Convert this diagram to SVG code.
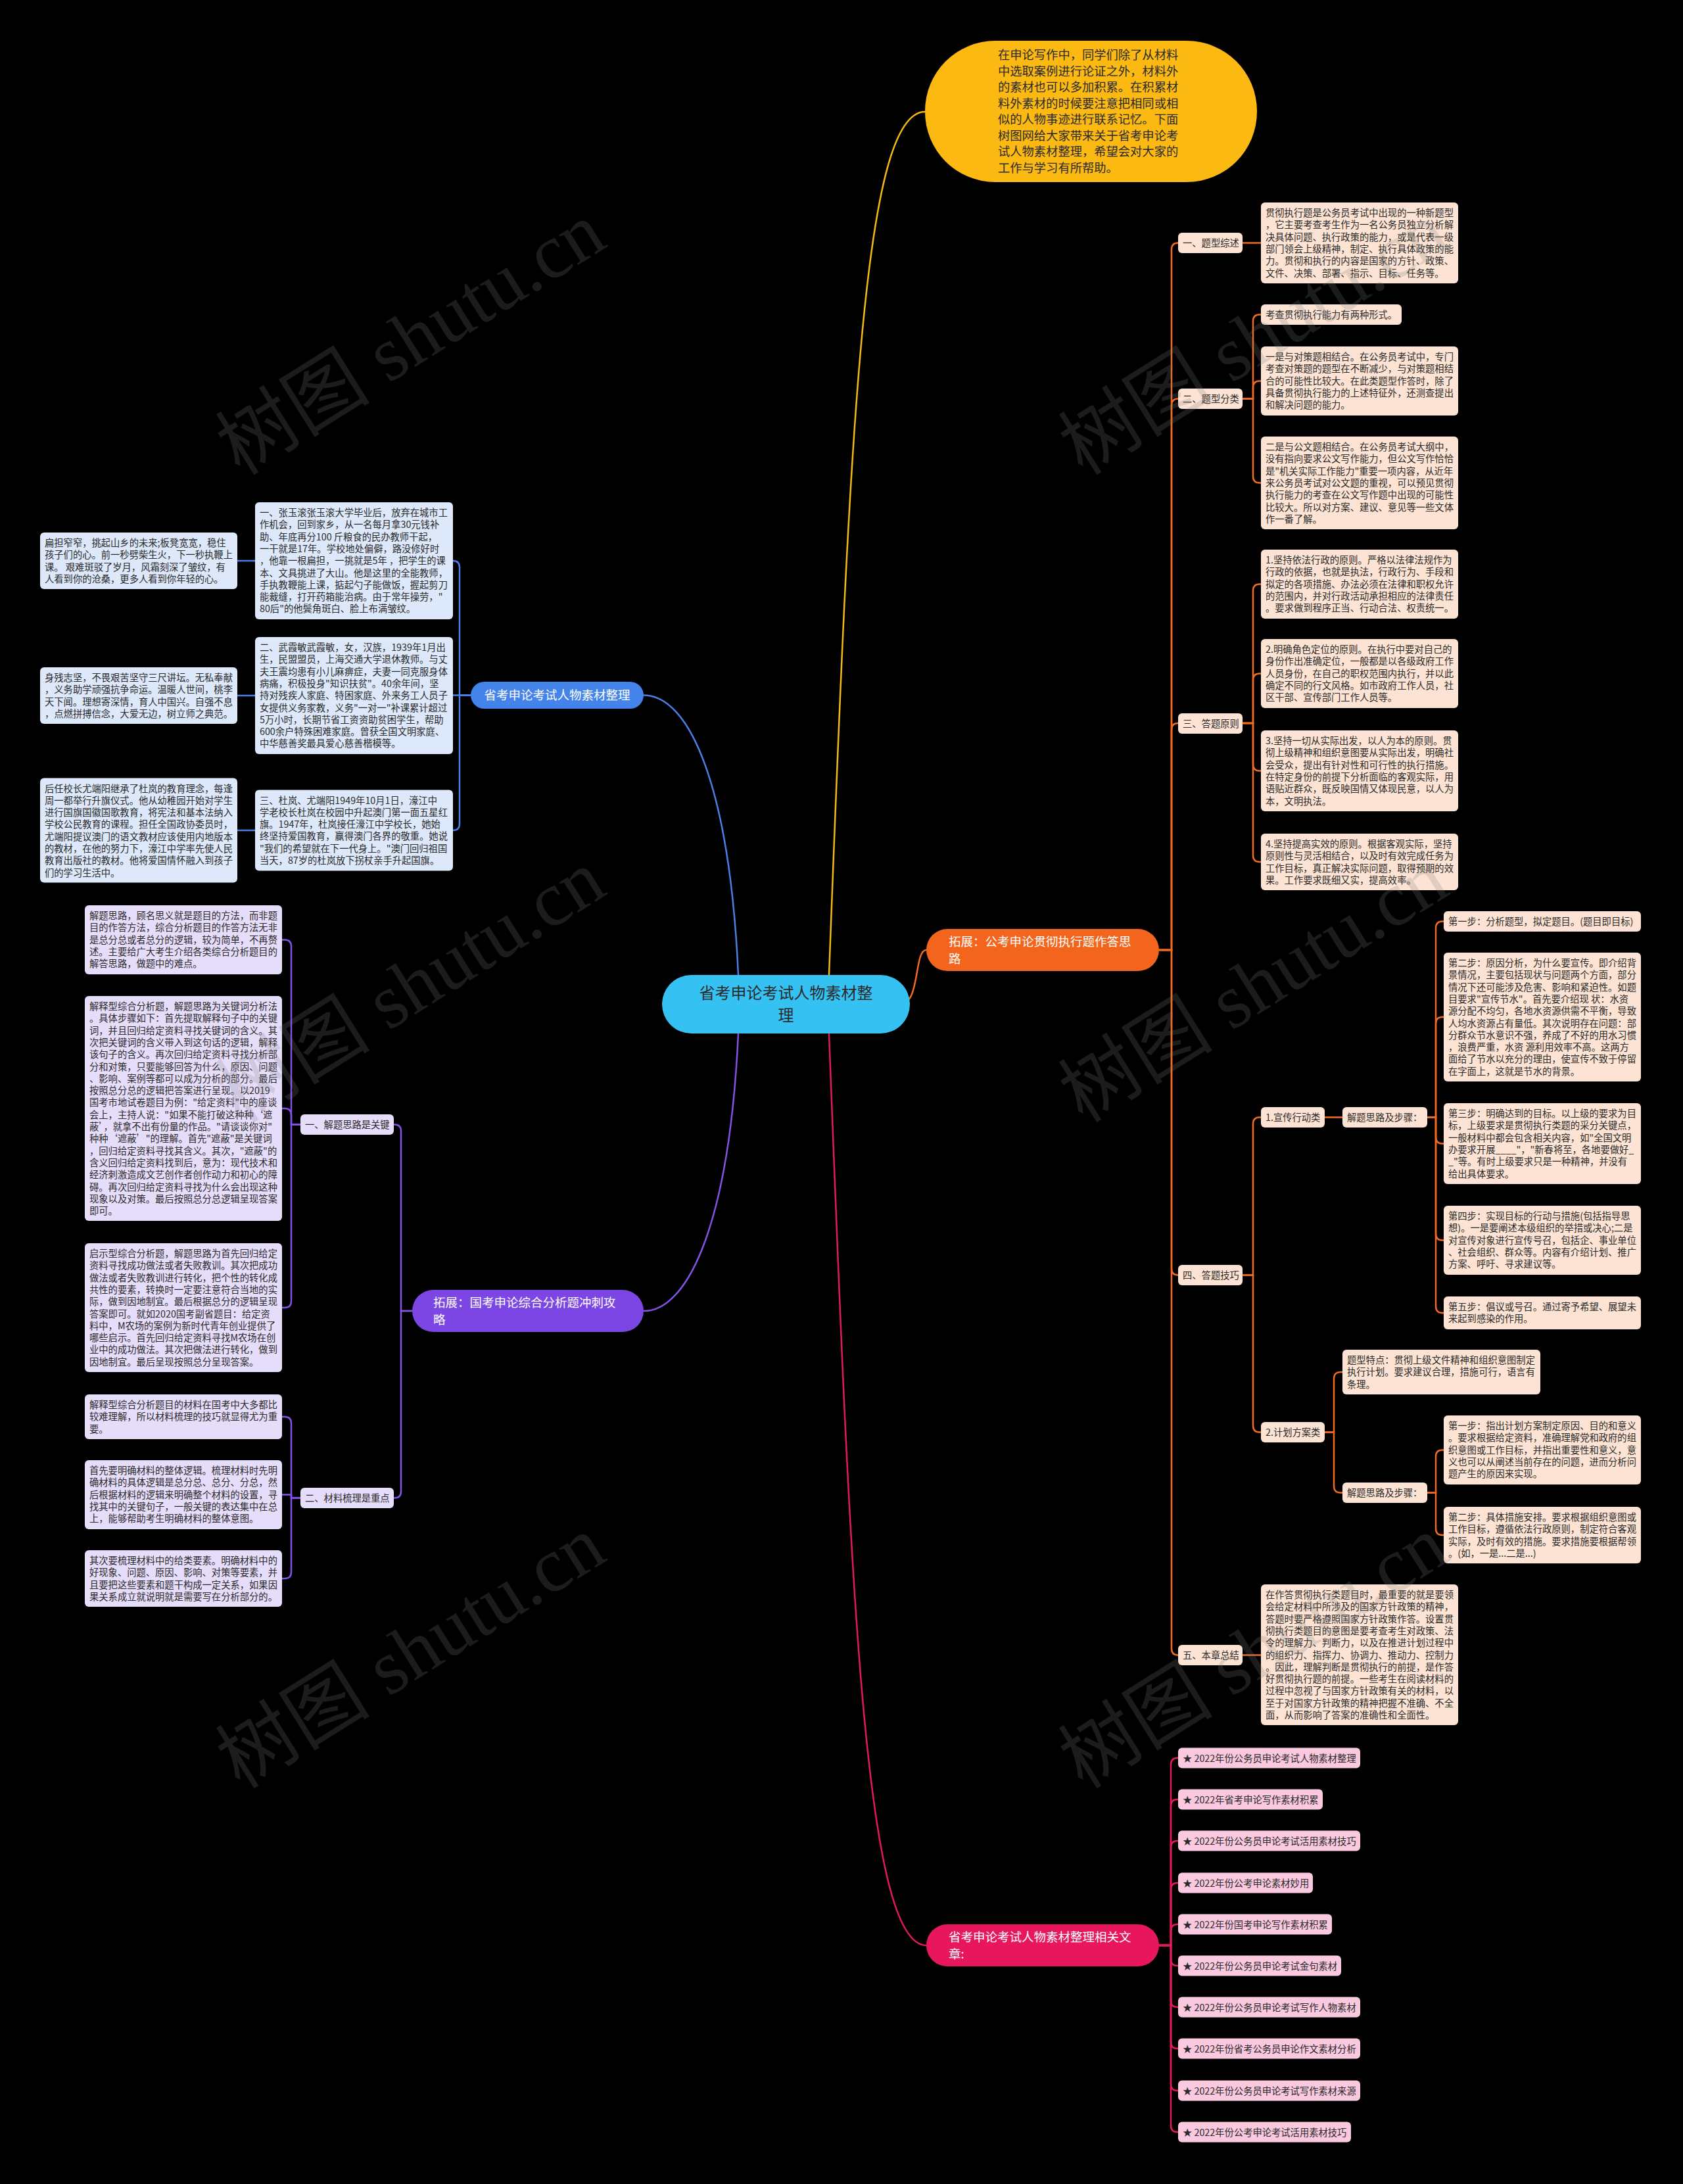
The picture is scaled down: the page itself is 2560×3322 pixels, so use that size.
<svg xmlns="http://www.w3.org/2000/svg" width="2560" height="3322" viewBox="0 0 2560 3322">
<style>
text{font-family:"Noto Sans CJK SC","Noto Sans",sans-serif}
.t{font-size:14.3px;fill:#2a2a2a}
.li{font-size:14.3px;fill:#2a2a2a}
.o{fill:#fde3d3}
.b{fill:#dde8fb}
.p{fill:#e6ddfb}
.k{fill:#fac9df}
.co{fill:none;stroke:#f06a22;stroke-width:2.5}
.cb{fill:none;stroke:#4a80e6;stroke-width:2.5}
.cp{fill:none;stroke:#8552e6;stroke-width:2.5}
.ck{fill:none;stroke:#e3195f;stroke-width:2.5}
.cy{fill:none;stroke:#f5b914;stroke-width:2.5}
.mw{font-size:18.5px;fill:#fff}
.wm{font-family:"Liberation Serif","Noto Sans CJK SC",serif;font-size:118px;fill:#808080;fill-opacity:.22}
</style>
<rect width="2560" height="3322" fill="#000"/>
<g id="connectors">
<path class="cy" d="M1261 1483C1293 640 1314 170 1407 170"/>
<path class="co" d="M1370 1527C1400 1527 1390 1445 1409 1445"/>
<path class="ck" d="M1261 1572C1293 2400 1314 2959 1409 2959"/>
<path class="cb" d="M1123 1483C1110 1200 1050 1057.5 979 1057.5"/>
<path class="cp" d="M1123 1572C1110 1850 1050 1994 979 1994"/>
<path class="co" d="M1763 1445H1782V379.5Q1782 369.5 1792 369.5"/>
<path class="co" d="M1763 1445H1782V616.5Q1782 606.5 1792 606.5"/>
<path class="co" d="M1763 1445H1782V1110Q1782 1100 1792 1100"/>
<path class="co" d="M1763 1445H1782V1929.5Q1782 1939.5 1792 1939.5"/>
<path class="co" d="M1763 1445H1782V2507.5Q1782 2517.5 1792 2517.5"/>
<path class="co" d="M1890 369.5H1918"/>
<path class="co" d="M1890 606.5H1906V488.5Q1906 478.5 1916 478.5H1918"/>
<path class="co" d="M1890 606.5H1906V589.5Q1906 579.5 1916 579.5H1918"/>
<path class="co" d="M1890 606.5H1906V724.5Q1906 734.5 1916 734.5H1918"/>
<path class="co" d="M1890 1100H1906V898.5Q1906 888.5 1916 888.5H1918"/>
<path class="co" d="M1890 1100H1906V1034.5Q1906 1024.5 1916 1024.5H1918"/>
<path class="co" d="M1890 1100H1906V1162.5Q1906 1172.5 1916 1172.5H1918"/>
<path class="co" d="M1890 1100H1906V1301Q1906 1311 1916 1311H1918"/>
<path class="co" d="M1890 1939.5H1906V1709.5Q1906 1699.5 1916 1699.5H1918"/>
<path class="co" d="M1890 1939.5H1906V2168.5Q1906 2178.5 1916 2178.5H1918"/>
<path class="co" d="M2015 1699.5H2042"/>
<path class="co" d="M2171 1699.5H2184V1411.5Q2184 1401.5 2194 1401.5H2196"/>
<path class="co" d="M2171 1699.5H2184V1557Q2184 1547 2194 1547H2196"/>
<path class="co" d="M2171 1699.5H2184V1729.5Q2184 1739.5 2194 1739.5H2196"/>
<path class="co" d="M2171 1699.5H2184V1876.5Q2184 1886.5 2194 1886.5H2196"/>
<path class="co" d="M2171 1699.5H2184V1987Q2184 1997 2194 1997H2196"/>
<path class="co" d="M2015 2178.5H2029V2097Q2029 2087 2039 2087H2042"/>
<path class="co" d="M2015 2178.5H2029V2260.5Q2029 2270.5 2039 2270.5H2042"/>
<path class="co" d="M2171 2270.5H2184V2215.5Q2184 2205.5 2194 2205.5H2196"/>
<path class="co" d="M2171 2270.5H2184V2325Q2184 2335 2194 2335H2196"/>
<path class="co" d="M1890 2517.5H1918"/>
<path class="cb" d="M716 1057.5H699V863Q699 853 689 853"/>
<path class="cb" d="M716 1057.5H689"/>
<path class="cb" d="M716 1057.5H699V1253Q699 1263 689 1263"/>
<path class="cb" d="M388 853H361M388 1058H361M388 1263H361"/>
<path class="cp" d="M627 1994H610V1720.5Q610 1710.5 600 1710.5H599"/>
<path class="cp" d="M627 1994H610V2268.5Q610 2278.5 600 2278.5H599"/>
<path class="cp" d="M457 1710.5H443V1439.5Q443 1429.5 433 1429.5H429"/>
<path class="cp" d="M457 1710.5H443V1696Q443 1686 433 1686H429"/>
<path class="cp" d="M457 1710.5H443V1979Q443 1989 433 1989H429"/>
<path class="cp" d="M457 2278.5H443V2165Q443 2155 433 2155H429"/>
<path class="cp" d="M457 2278.5H443V2273.5H429"/>
<path class="cp" d="M457 2278.5H443V2391Q443 2401 433 2401H429"/>
<path class="ck" d="M1763 2959H1781V2684Q1781 2674 1791 2674H1792"/>
<path class="ck" d="M1763 2959H1781V2747Q1781 2737 1791 2737H1792"/>
<path class="ck" d="M1763 2959H1781V2810Q1781 2800 1791 2800H1792"/>
<path class="ck" d="M1763 2959H1781V2874Q1781 2864 1791 2864H1792"/>
<path class="ck" d="M1763 2959H1781V2937Q1781 2927 1791 2927H1792"/>
<path class="ck" d="M1763 2959H1781V2980Q1781 2990 1791 2990H1792"/>
<path class="ck" d="M1763 2959H1781V3043Q1781 3053 1791 3053H1792"/>
<path class="ck" d="M1763 2959H1781V3106Q1781 3116 1791 3116H1792"/>
<path class="ck" d="M1763 2959H1781V3170Q1781 3180 1791 3180H1792"/>
<path class="ck" d="M1763 2959H1781V3233Q1781 3243 1791 3243H1792"/>
</g>

<g id="root">
<rect x="1007" y="1483" width="377" height="89" rx="44.5" fill="#35c2f2"/>
<text x="1195.5" y="1519" font-size="24" fill="#2a2a2a" text-anchor="middle"><tspan x="1195.5">省考申论考试人物素材整</tspan><tspan x="1195.5" dy="34">理</tspan></text>
</g>

<g id="intro">
<rect x="1407" y="62" width="505" height="215" rx="107" fill="#fbb912"/>
<text x="1518" y="90" font-size="18.3" fill="#2a2a2a"><tspan x="1518">在申论写作中，同学们除了从材料</tspan><tspan x="1518" dy="24.5">中选取案例进行论证之外，材料外</tspan><tspan x="1518" dy="24.5">的素材也可以多加积累。在积累材</tspan><tspan x="1518" dy="24.5">料外素材的时候要注意把相同或相</tspan><tspan x="1518" dy="24.5">似的人物事迹进行联系记忆。下面</tspan><tspan x="1518" dy="24.5">树图网给大家带来关于省考申论考</tspan><tspan x="1518" dy="24.5">试人物素材整理，希望会对大家的</tspan><tspan x="1518" dy="24.5">工作与学习有所帮助。</tspan></text>
</g>

<g id="n-orange">
<rect x="1409" y="1413" width="354" height="64" rx="32" fill="#f3641d"/>
<text class="mw" x="1443" y="1438.5"><tspan x="1443">拓展：公考申论贯彻执行题作答思</tspan><tspan x="1443" dy="26">路</tspan></text>
</g>
<g id="o-l1"><rect class="o" x="1792" y="354" width="98" height="31" rx="6"/><text class="t" x="1799" y="375">一、题型综述</text></g>
<g id="o-t1"><rect class="o" x="1918" y="308" width="300" height="123" rx="6"/><text class="t" x="1925" y="329"><tspan x="1925">贯彻执行题是公务员考试中出现的一种新题型</tspan><tspan x="1925" dy="18.3">，它主要考查考生作为一名公务员独立分析解</tspan><tspan x="1925" dy="18.3">决具体问题、执行政策的能力，或是代表一级</tspan><tspan x="1925" dy="18.3">部门领会上级精神，制定、执行具体政策的能</tspan><tspan x="1925" dy="18.3">力。贯彻和执行的内容是国家的方针、政策、</tspan><tspan x="1925" dy="18.3">文件、决策、部署、指示、目标、任务等。</tspan></text></g>
<g id="o-l2"><rect class="o" x="1792" y="591" width="98" height="31" rx="6"/><text class="t" x="1799" y="612">二、题型分类</text></g>
<g id="o-t2a"><rect class="o" x="1918" y="463" width="214" height="31" rx="6"/><text class="t" x="1925" y="484">考查贯彻执行能力有两种形式。</text></g>
<g id="o-t2b"><rect class="o" x="1918" y="527" width="300" height="105" rx="6"/><text class="t" x="1925" y="548"><tspan x="1925">一是与对策题相结合。在公务员考试中，专门</tspan><tspan x="1925" dy="18.3">考查对策题的题型在不断减少，与对策题相结</tspan><tspan x="1925" dy="18.3">合的可能性比较大。在此类题型作答时，除了</tspan><tspan x="1925" dy="18.3">具备贯彻执行能力的上述特征外，还测查提出</tspan><tspan x="1925" dy="18.3">和解决问题的能力。</tspan></text></g>
<g id="o-t2c"><rect class="o" x="1918" y="664" width="300" height="141" rx="6"/><text class="t" x="1925" y="685"><tspan x="1925">二是与公文题相结合。在公务员考试大纲中，</tspan><tspan x="1925" dy="18.3">没有指向要求公文写作能力，但公文写作恰恰</tspan><tspan x="1925" dy="18.3">是"机关实际工作能力"重要一项内容，从近年</tspan><tspan x="1925" dy="18.3">来公务员考试对公文题的重视，可以预见贯彻</tspan><tspan x="1925" dy="18.3">执行能力的考查在公文写作题中出现的可能性</tspan><tspan x="1925" dy="18.3">比较大。所以对方案、建议、意见等一些文体</tspan><tspan x="1925" dy="18.3">作一番了解。</tspan></text></g>
<g id="o-l3"><rect class="o" x="1792" y="1085" width="98" height="31" rx="6"/><text class="t" x="1799" y="1106">三、答题原则</text></g>
<g id="o-t3a"><rect class="o" x="1918" y="836" width="300" height="105" rx="6"/><text class="t" x="1925" y="857"><tspan x="1925">1.坚持依法行政的原则。严格以法律法规作为</tspan><tspan x="1925" dy="18.3">行政的依据，也就是执法，行政行为、手段和</tspan><tspan x="1925" dy="18.3">拟定的各项措施、办法必须在法律和职权允许</tspan><tspan x="1925" dy="18.3">的范围内，并对行政活动承担相应的法律责任</tspan><tspan x="1925" dy="18.3">。要求做到程序正当、行动合法、权责统一。</tspan></text></g>
<g id="o-t3b"><rect class="o" x="1918" y="972" width="300" height="105" rx="6"/><text class="t" x="1925" y="993"><tspan x="1925">2.明确角色定位的原则。在执行中要对自己的</tspan><tspan x="1925" dy="18.3">身份作出准确定位，一般都是以各级政府工作</tspan><tspan x="1925" dy="18.3">人员身份，在自己的职权范围内执行，并以此</tspan><tspan x="1925" dy="18.3">确定不同的行文风格。如市政府工作人员，社</tspan><tspan x="1925" dy="18.3">区干部、宣传部门工作人员等。</tspan></text></g>
<g id="o-t3c"><rect class="o" x="1918" y="1111" width="300" height="123" rx="6"/><text class="t" x="1925" y="1132"><tspan x="1925">3.坚持一切从实际出发，以人为本的原则。贯</tspan><tspan x="1925" dy="18.3">彻上级精神和组织意图要从实际出发，明确社</tspan><tspan x="1925" dy="18.3">会受众，提出有针对性和可行性的执行措施。</tspan><tspan x="1925" dy="18.3">在特定身份的前提下分析面临的客观实际，用</tspan><tspan x="1925" dy="18.3">语贴近群众，既反映国情又体现民意，以人为</tspan><tspan x="1925" dy="18.3">本，文明执法。</tspan></text></g>
<g id="o-t3d"><rect class="o" x="1918" y="1268" width="300" height="86" rx="6"/><text class="t" x="1925" y="1289"><tspan x="1925">4.坚持提高实效的原则。根据客观实际，坚持</tspan><tspan x="1925" dy="18.3">原则性与灵活相结合，以及时有效完成任务为</tspan><tspan x="1925" dy="18.3">工作目标，真正解决实际问题，取得预期的效</tspan><tspan x="1925" dy="18.3">果。工作要求既细又实，提高效率。</tspan></text></g>
<g id="o-l4"><rect class="o" x="1792" y="1924" width="98" height="31" rx="6"/><text class="t" x="1799" y="1945">四、答题技巧</text></g>
<g id="o-l4a"><rect class="o" x="1918" y="1684" width="97" height="31" rx="6"/><text class="t" x="1925" y="1705">1.宣传行动类</text></g>
<g id="o-l4a1"><rect class="o" x="2042" y="1684" width="129" height="31" rx="6"/><text class="t" x="2049" y="1705">解题思路及步骤：</text></g>
<g id="o-s1"><rect class="o" x="2196" y="1386" width="300" height="31" rx="6"/><text class="t" x="2203" y="1407">第一步：分析题型，拟定题目。(题目即目标)</text></g>
<g id="o-s2"><rect class="o" x="2196" y="1449" width="300" height="196" rx="6"/><text class="t" x="2203" y="1470"><tspan x="2203">第二步：原因分析，为什么要宣传。即介绍背</tspan><tspan x="2203" dy="18.3">景情况，主要包括现状与问题两个方面，部分</tspan><tspan x="2203" dy="18.3">情况下还可能涉及危害、影响和紧迫性。如题</tspan><tspan x="2203" dy="18.3">目要求"宣传节水"。首先要介绍现 状：水资</tspan><tspan x="2203" dy="18.3">源分配不均匀，各地水资源供需不平衡，导致</tspan><tspan x="2203" dy="18.3">人均水资源占有量低。其次说明存在问题：部</tspan><tspan x="2203" dy="18.3">分群众节水意识不强，养成了不好的用水习惯</tspan><tspan x="2203" dy="18.3">，浪费严重，水资 源利用效率不高。这两方</tspan><tspan x="2203" dy="18.3">面给了节水以充分的理由，使宣传不致于停留</tspan><tspan x="2203" dy="18.3">在字面上，这就是节水的背景。</tspan></text></g>
<g id="o-s3"><rect class="o" x="2196" y="1678" width="300" height="123" rx="6"/><text class="t" x="2203" y="1699"><tspan x="2203">第三步：明确达到的目标。以上级的要求为目</tspan><tspan x="2203" dy="18.3">标，上级要求是贯彻执行类题的采分关键点，</tspan><tspan x="2203" dy="18.3">一般材料中都会包含相关内容，如"全国文明</tspan><tspan x="2203" dy="18.3">办要求开展____"，"新春将至，各地要做好_</tspan><tspan x="2203" dy="18.3">_"等。有时上级要求只是一种精神，并没有</tspan><tspan x="2203" dy="18.3">给出具体要求。</tspan></text></g>
<g id="o-s4"><rect class="o" x="2196" y="1834" width="300" height="105" rx="6"/><text class="t" x="2203" y="1855"><tspan x="2203">第四步：实现目标的行动与措施(包括指导思</tspan><tspan x="2203" dy="18.3">想)。一是要阐述本级组织的举措或决心;二是</tspan><tspan x="2203" dy="18.3">对宣传对象进行宣传号召，包括企、事业单位</tspan><tspan x="2203" dy="18.3">、社会组织、群众等。内容有介绍计划、推广</tspan><tspan x="2203" dy="18.3">方案、呼吁、寻求建议等。</tspan></text></g>
<g id="o-s5"><rect class="o" x="2196" y="1972" width="300" height="50" rx="6"/><text class="t" x="2203" y="1993"><tspan x="2203">第五步：倡议或号召。通过寄予希望、展望未</tspan><tspan x="2203" dy="18.3">来起到感染的作用。</tspan></text></g>
<g id="o-l4b"><rect class="o" x="1918" y="2163" width="97" height="31" rx="6"/><text class="t" x="1925" y="2184">2.计划方案类</text></g>
<g id="o-tf"><rect class="o" x="2042" y="2053" width="301" height="68" rx="6"/><text class="t" x="2049" y="2074"><tspan x="2049">题型特点：贯彻上级文件精神和组织意图制定</tspan><tspan x="2049" dy="18.3">执行计划。要求建议合理，措施可行，语言有</tspan><tspan x="2049" dy="18.3">条理。</tspan></text></g>
<g id="o-l4b1"><rect class="o" x="2042" y="2255" width="129" height="31" rx="6"/><text class="t" x="2049" y="2276">解题思路及步骤：</text></g>
<g id="o-p1"><rect class="o" x="2196" y="2153" width="300" height="105" rx="6"/><text class="t" x="2203" y="2174"><tspan x="2203">第一步：指出计划方案制定原因、目的和意义</tspan><tspan x="2203" dy="18.3">。要求根据给定资料，准确理解党和政府的组</tspan><tspan x="2203" dy="18.3">织意图或工作目标，并指出重要性和意义，意</tspan><tspan x="2203" dy="18.3">义也可以从阐述当前存在的问题，进而分析问</tspan><tspan x="2203" dy="18.3">题产生的原因来实现。</tspan></text></g>
<g id="o-p2"><rect class="o" x="2196" y="2292" width="300" height="86" rx="6"/><text class="t" x="2203" y="2313"><tspan x="2203">第二步：具体措施安排。要求根据组织意图或</tspan><tspan x="2203" dy="18.3">工作目标，遵循依法行政原则，制定符合客观</tspan><tspan x="2203" dy="18.3">实际，及时有效的措施。要求措施要根据帮领</tspan><tspan x="2203" dy="18.3">。(如，一是...二是...)</tspan></text></g>
<g id="o-l5"><rect class="o" x="1792" y="2502" width="98" height="31" rx="6"/><text class="t" x="1799" y="2523">五、本章总结</text></g>
<g id="o-t5"><rect class="o" x="1918" y="2410" width="300" height="214" rx="6"/><text class="t" x="1925" y="2431"><tspan x="1925">在作答贯彻执行类题目时，最重要的就是要领</tspan><tspan x="1925" dy="18.3">会给定材料中所涉及的国家方针政策的精神，</tspan><tspan x="1925" dy="18.3">答题时要严格遵照国家方针政策作答。设置贯</tspan><tspan x="1925" dy="18.3">彻执行类题目的意图是要考查考生对政策、法</tspan><tspan x="1925" dy="18.3">令的理解力、判断力，以及在推进计划过程中</tspan><tspan x="1925" dy="18.3">的组织力、指挥力、协调力、推动力、控制力</tspan><tspan x="1925" dy="18.3">。因此，理解判断是贯彻执行的前提，是作答</tspan><tspan x="1925" dy="18.3">好贯彻执行题的前提。一些考生在阅读材料的</tspan><tspan x="1925" dy="18.3">过程中忽视了与国家方针政策有关的材料，以</tspan><tspan x="1925" dy="18.3">至于对国家方针政策的精神把握不准确、不全</tspan><tspan x="1925" dy="18.3">面，从而影响了答案的准确性和全面性。</tspan></text></g>

<g id="n-blue">
<rect x="716" y="1037" width="263" height="41" rx="20.5" fill="#4383ea"/>
<text class="mw" x="847.5" y="1064" text-anchor="middle">省考申论考试人物素材整理</text>
</g>
<g id="b-1"><rect class="b" x="388" y="764" width="301" height="178" rx="6"/><text class="t" x="395" y="785"><tspan x="395">一、张玉滚张玉滚大学毕业后，放弃在城市工</tspan><tspan x="395" dy="18.3">作机会，回到家乡，从一名每月拿30元钱补</tspan><tspan x="395" dy="18.3">助、年底再分100 斤粮食的民办教师干起，</tspan><tspan x="395" dy="18.3">一干就是17年。学校地处偏僻，路没修好时</tspan><tspan x="395" dy="18.3">，他靠一根扁担，一挑就是5年 ，把学生的课</tspan><tspan x="395" dy="18.3">本、文具挑进了大山。他是这里的全能教师，</tspan><tspan x="395" dy="18.3">手执教鞭能上课，掂起勺子能做饭，握起剪刀</tspan><tspan x="395" dy="18.3">能裁缝，打开药箱能治病。由于常年操劳，"</tspan><tspan x="395" dy="18.3">80后"的他鬓角斑白、脸上布满皱纹。</tspan></text></g>
<g id="b-2"><rect class="b" x="388" y="969" width="301" height="178" rx="6"/><text class="t" x="395" y="990"><tspan x="395">二、武霞敏武霞敏，女，汉族，1939年1月出</tspan><tspan x="395" dy="18.3">生，民盟盟员，上海交通大学退休教师。与丈</tspan><tspan x="395" dy="18.3">夫王震均患有小儿麻痹症，夫妻一同克服身体</tspan><tspan x="395" dy="18.3">病痛，积极投身"知识扶贫"。40余年间，坚</tspan><tspan x="395" dy="18.3">持对残疾人家庭、特困家庭、外来务工人员子</tspan><tspan x="395" dy="18.3">女提供义务家教，义务"一对一"补课累计超过</tspan><tspan x="395" dy="18.3">5万小时，长期节省工资资助贫困学生，帮助</tspan><tspan x="395" dy="18.3">600余户特殊困难家庭。曾获全国文明家庭、</tspan><tspan x="395" dy="18.3">中华慈善奖最具爱心慈善楷模等。</tspan></text></g>
<g id="b-3"><rect class="b" x="388" y="1201.5" width="301" height="123" rx="6"/><text class="t" x="395" y="1222.5"><tspan x="395">三、杜岚、尤端阳1949年10月1日，濠江中</tspan><tspan x="395" dy="18.3">学老校长杜岚在校园中升起澳门第一面五星红</tspan><tspan x="395" dy="18.3">旗。1947年，杜岚接任濠江中学校长，她始</tspan><tspan x="395" dy="18.3">终坚持爱国教育，赢得澳门各界的敬重。她说</tspan><tspan x="395" dy="18.3">"我们的希望就在下一代身上。"澳门回归祖国</tspan><tspan x="395" dy="18.3">当天，87岁的杜岚放下拐杖亲手升起国旗。</tspan></text></g>
<g id="b-a1"><rect class="b" x="61" y="810" width="300" height="86" rx="6"/><text class="t" x="68" y="831"><tspan x="68">扁担窄窄，挑起山乡的未来;板凳宽宽，稳住</tspan><tspan x="68" dy="18.3">孩子们的心。前一秒劈柴生火，下一秒执鞭上</tspan><tspan x="68" dy="18.3">课。 艰难斑驳了岁月，风霜刻深了皱纹，有</tspan><tspan x="68" dy="18.3">人看到你的沧桑，更多人看到你年轻的心。</tspan></text></g>
<g id="b-a2"><rect class="b" x="61" y="1015" width="300" height="86" rx="6"/><text class="t" x="68" y="1036"><tspan x="68">身残志坚，不畏艰苦坚守三尺讲坛。无私奉献</tspan><tspan x="68" dy="18.3">，义务助学顽强抗争命运。温暖人世间，桃李</tspan><tspan x="68" dy="18.3">天下闻。理想寄深情，育人中国兴。自强不息</tspan><tspan x="68" dy="18.3">，点燃拼搏信念，大爱无边，树立师之典范。</tspan></text></g>
<g id="b-a3"><rect class="b" x="61" y="1183.5" width="300" height="159" rx="6"/><text class="t" x="68" y="1204.5"><tspan x="68">后任校长尤端阳继承了杜岚的教育理念，每逢</tspan><tspan x="68" dy="18.3">周一都举行升旗仪式。他从幼稚园开始对学生</tspan><tspan x="68" dy="18.3">进行国旗国徽国歌教育，将宪法和基本法纳入</tspan><tspan x="68" dy="18.3">学校公民教育的课程。担任全国政协委员时，</tspan><tspan x="68" dy="18.3">尤端阳提议澳门的语文教材应该使用内地版本</tspan><tspan x="68" dy="18.3">的教材，在他的努力下，濠江中学率先使人民</tspan><tspan x="68" dy="18.3">教育出版社的教材。他将爱国情怀融入到孩子</tspan><tspan x="68" dy="18.3">们的学习生活中。</tspan></text></g>

<g id="n-purple">
<rect x="627" y="1962" width="352" height="64" rx="32" fill="#7c46e4"/>
<text class="mw" x="659" y="1987.5"><tspan x="659">拓展：国考申论综合分析题冲刺攻</tspan><tspan x="659" dy="26">略</tspan></text>
</g>
<g id="p-l1"><rect class="p" x="457" y="1695" width="142" height="31" rx="6"/><text class="t" x="464" y="1716">一、解题思路是关键</text></g>
<g id="p-b1"><rect class="p" x="129" y="1377" width="300" height="105" rx="6"/><text class="t" x="136" y="1398"><tspan x="136">解题思路，顾名思义就是题目的方法，而非题</tspan><tspan x="136" dy="18.3">目的作答方法，综合分析题目的作答方法无非</tspan><tspan x="136" dy="18.3">是总分总或者总分的逻辑，较为简单，不再赘</tspan><tspan x="136" dy="18.3">述。主要给广大考生介绍各类综合分析题目的</tspan><tspan x="136" dy="18.3">解答思路，做题中的难点。</tspan></text></g>
<g id="p-b2"><rect class="p" x="129" y="1515" width="300" height="342" rx="6"/><text class="t" x="136" y="1536"><tspan x="136">解释型综合分析题，解题思路为关键词分析法</tspan><tspan x="136" dy="18.3">。具体步骤如下：首先提取解释句子中的关键</tspan><tspan x="136" dy="18.3">词，并且回归给定资料寻找关键词的含义。其</tspan><tspan x="136" dy="18.3">次把关键词的含义带入到这句话的逻辑，解释</tspan><tspan x="136" dy="18.3">该句子的含义。再次回归给定资料寻找分析部</tspan><tspan x="136" dy="18.3">分和对策，只要能够回答为什么，原因、问题</tspan><tspan x="136" dy="18.3">、影响、案例等都可以成为分析的部分。最后</tspan><tspan x="136" dy="18.3">按照总分总的逻辑把答案进行呈现。以2019</tspan><tspan x="136" dy="18.3">国考市地试卷题目为例："给定资料"中的座谈</tspan><tspan x="136" dy="18.3">会上，主持人说："如果不能打破这种种‘遮</tspan><tspan x="136" dy="18.3">蔽’，就拿不出有份量的作品。"请谈谈你对"</tspan><tspan x="136" dy="18.3">种种‘遮蔽’"的理解。首先"遮蔽"是关键词</tspan><tspan x="136" dy="18.3">，回归给定资料寻找其含义。其次，"遮蔽"的</tspan><tspan x="136" dy="18.3">含义回归给定资料找到后，意为：现代技术和</tspan><tspan x="136" dy="18.3">经济刺激造成文艺创作者创作动力和初心的障</tspan><tspan x="136" dy="18.3">碍。再次回归给定资料寻找为什么会出现这种</tspan><tspan x="136" dy="18.3">现象以及对策。最后按照总分总逻辑呈现答案</tspan><tspan x="136" dy="18.3">即可。</tspan></text></g>
<g id="p-b3"><rect class="p" x="129" y="1891" width="300" height="196" rx="6"/><text class="t" x="136" y="1912"><tspan x="136">启示型综合分析题，解题思路为首先回归给定</tspan><tspan x="136" dy="18.3">资料寻找成功做法或者失败教训。其次把成功</tspan><tspan x="136" dy="18.3">做法或者失败教训进行转化，把个性的转化成</tspan><tspan x="136" dy="18.3">共性的要素，转换时一定要注意符合当地的实</tspan><tspan x="136" dy="18.3">际，做到因地制宜。最后根据总分的逻辑呈现</tspan><tspan x="136" dy="18.3">答案即可。就如2020国考副省题目：给定资</tspan><tspan x="136" dy="18.3">料中，M农场的案例为新时代青年创业提供了</tspan><tspan x="136" dy="18.3">哪些启示。首先回归给定资料寻找M农场在创</tspan><tspan x="136" dy="18.3">业中的成功做法。其次把做法进行转化，做到</tspan><tspan x="136" dy="18.3">因地制宜。最后呈现按照总分呈现答案。</tspan></text></g>
<g id="p-l2"><rect class="p" x="457" y="2263" width="142" height="31" rx="6"/><text class="t" x="464" y="2284">二、材料梳理是重点</text></g>
<g id="p-c1"><rect class="p" x="129" y="2121" width="300" height="68" rx="6"/><text class="t" x="136" y="2142"><tspan x="136">解释型综合分析题目的材料在国考中大多都比</tspan><tspan x="136" dy="18.3">较难理解，所以材料梳理的技巧就显得尤为重</tspan><tspan x="136" dy="18.3">要。</tspan></text></g>
<g id="p-c2"><rect class="p" x="129" y="2221" width="300" height="105" rx="6"/><text class="t" x="136" y="2242"><tspan x="136">首先要明确材料的整体逻辑。梳理材料时先明</tspan><tspan x="136" dy="18.3">确材料的具体逻辑是总分总、总分、分总，然</tspan><tspan x="136" dy="18.3">后根据材料的逻辑来明确整个材料的设置，寻</tspan><tspan x="136" dy="18.3">找其中的关键句子，一般关键的表达集中在总</tspan><tspan x="136" dy="18.3">上，能够帮助考生明确材料的整体意图。</tspan></text></g>
<g id="p-c3"><rect class="p" x="129" y="2358" width="300" height="86" rx="6"/><text class="t" x="136" y="2379"><tspan x="136">其次要梳理材料中的给类要素。明确材料中的</tspan><tspan x="136" dy="18.3">好现象、问题、原因、影响、对策等要素，并</tspan><tspan x="136" dy="18.3">且要把这些要素和题干构成一定关系，如果因</tspan><tspan x="136" dy="18.3">果关系成立就说明就是需要写在分析部分的。</tspan></text></g>

<g id="n-pink">
<rect x="1409" y="2927" width="354" height="64" rx="32" fill="#e8175d"/>
<text class="mw" x="1443" y="2952.5"><tspan x="1443">省考申论考试人物素材整理相关文</tspan><tspan x="1443" dy="26">章:</tspan></text>
</g>
<g id="k-1"><rect class="k" x="1792" y="2658.5" width="277" height="31" rx="6"/><text class="li" x="1799" y="2679.5">★ 2022年份公务员申论考试人物素材整理</text></g>
<g id="k-2"><rect class="k" x="1792" y="2721.5" width="220" height="31" rx="6"/><text class="li" x="1799" y="2742.5">★ 2022年省考申论写作素材积累</text></g>
<g id="k-3"><rect class="k" x="1792" y="2784.5" width="277" height="31" rx="6"/><text class="li" x="1799" y="2805.5">★ 2022年份公务员申论考试活用素材技巧</text></g>
<g id="k-4"><rect class="k" x="1792" y="2848.5" width="205" height="31" rx="6"/><text class="li" x="1799" y="2869.5">★ 2022年份公考申论素材妙用</text></g>
<g id="k-5"><rect class="k" x="1792" y="2911.5" width="234" height="31" rx="6"/><text class="li" x="1799" y="2932.5">★ 2022年份国考申论写作素材积累</text></g>
<g id="k-6"><rect class="k" x="1792" y="2974.5" width="248" height="31" rx="6"/><text class="li" x="1799" y="2995.5">★ 2022年份公务员申论考试金句素材</text></g>
<g id="k-7"><rect class="k" x="1792" y="3037.5" width="277" height="31" rx="6"/><text class="li" x="1799" y="3058.5">★ 2022年份公务员申论考试写作人物素材</text></g>
<g id="k-8"><rect class="k" x="1792" y="3100.5" width="277" height="31" rx="6"/><text class="li" x="1799" y="3121.5">★ 2022年份省考公务员申论作文素材分析</text></g>
<g id="k-9"><rect class="k" x="1792" y="3164.5" width="277" height="31" rx="6"/><text class="li" x="1799" y="3185.5">★ 2022年份公务员申论考试写作素材来源</text></g>
<g id="k-10"><rect class="k" x="1792" y="3227.5" width="263" height="31" rx="6"/><text class="li" x="1799" y="3248.5">★ 2022年份公考申论考试活用素材技巧</text></g>

<g id="watermark">
<text class="wm" text-anchor="middle" transform="translate(646 549) rotate(-32)">树图 shutu.cn</text>
<text class="wm" text-anchor="middle" transform="translate(646 1534) rotate(-32)">树图 shutu.cn</text>
<text class="wm" text-anchor="middle" transform="translate(646 2547) rotate(-32)">树图 shutu.cn</text>
<text class="wm" text-anchor="middle" transform="translate(1928 549) rotate(-32)">树图 shutu.cn</text>
<text class="wm" text-anchor="middle" transform="translate(1928 1534) rotate(-32)">树图 shutu.cn</text>
<text class="wm" text-anchor="middle" transform="translate(1928 2547) rotate(-32)">树图 shutu.cn</text>
</g>
</svg>
